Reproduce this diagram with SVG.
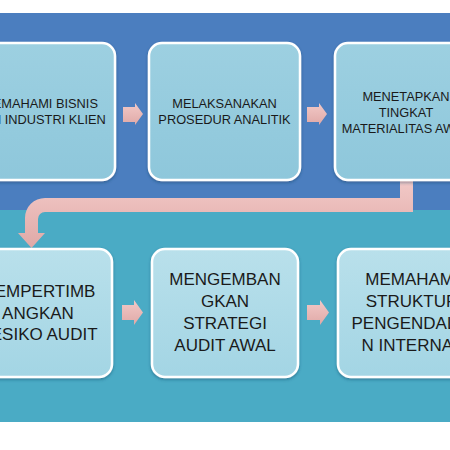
<svg xmlns="http://www.w3.org/2000/svg" width="450" height="450" viewBox="0 0 450 450">
<defs>
<linearGradient id="gTop" x1="0" y1="0" x2="0" y2="1">
<stop offset="0" stop-color="#9dd0e1"/>
<stop offset="1" stop-color="#8ec7db"/>
</linearGradient>
<linearGradient id="gBot" x1="0" y1="0" x2="0" y2="1">
<stop offset="0" stop-color="#b9e0eb"/>
<stop offset="1" stop-color="#a3d5e4"/>
</linearGradient>
<linearGradient id="gPink" x1="0" y1="0" x2="0" y2="1">
<stop offset="0" stop-color="#f2c9c7"/>
<stop offset="1" stop-color="#e0a9a7"/>
</linearGradient>
<filter id="sh" x="-20%" y="-20%" width="140%" height="140%">
<feDropShadow dx="0" dy="1.5" stdDeviation="1.5" flood-color="#1d3f60" flood-opacity="0.45"/>
</filter>
</defs>
<style>
.box{stroke:#ffffff;stroke-width:2.5;filter:url(#sh)}
.top{fill:url(#gTop)}
.bot{fill:url(#gBot)}
.t1{font-family:"Liberation Sans",Arial,sans-serif;font-size:12.8px;fill:#1a1a1a;text-anchor:middle}
.t2{font-family:"Liberation Sans",Arial,sans-serif;font-size:17px;fill:#1a1a1a;text-anchor:middle}
.arr{fill:url(#gPink)}
</style>
<rect x="0" y="0" width="450" height="450" fill="#ffffff"/>
<rect id="band-top" x="0" y="13" width="450" height="197" fill="#4b7ebf"/>
<rect id="band-bottom" x="0" y="210" width="450" height="212" fill="#4aabc5"/>

<g id="connectors">
<path class="arr" d="M400,180 L413,180 L413,212 L45,212 A7,7 0 0 0 38,219 L38,233 L45,233 L31.5,248 L18,233 L25,233 L25,218 A20,20 0 0 1 45,198 L400,198 Z"/>
<path class="arr" d="M123,107 L135,107 L135,103 L143,114 L135,125 L135,122 L123,122 Z"/>
<path class="arr" d="M307,107 L319,107 L319,103 L327,114 L319,125 L319,122 L307,122 Z"/>
<path class="arr" d="M122,305 L134,305 L134,300 L143,312.5 L134,325 L134,320 L122,320 Z"/>
<path class="arr" d="M307,305 L320,305 L320,300 L329,312.5 L320,325 L320,320 L307,320 Z"/>
</g>

<g id="node1">
<rect class="box top" x="-36" y="43" width="151" height="137" rx="13"/>
<text class="t1" x="40" y="108">MEMAHAMI BISNIS</text>
<text class="t1" x="40" y="124">DAN INDUSTRI KLIEN</text>
</g>
<g id="node2">
<rect class="box top" x="149" y="43" width="151" height="137" rx="13"/>
<text class="t1" x="224.5" y="108">MELAKSANAKAN</text>
<text class="t1" x="224.5" y="124">PROSEDUR ANALITIK</text>
</g>
<g id="node3">
<rect class="box top" x="335" y="43" width="151" height="137" rx="13"/>
<text class="t1" x="406" y="101">MENETAPKAN</text>
<text class="t1" x="406" y="117">TINGKAT</text>
<text class="t1" x="406" y="133">MATERIALITAS AWAL</text>
</g>
<g id="node4">
<rect class="box bot" x="-34" y="249" width="146" height="128" rx="13"/>
<text class="t2" x="38" y="297">MEMPERTIMB</text>
<text class="t2" x="38" y="318.5">ANGKAN</text>
<text class="t2" x="38" y="340">RESIKO AUDIT</text>
</g>
<g id="node5">
<rect class="box bot" x="152" y="249" width="146" height="128" rx="13"/>
<text class="t2" x="225" y="285">MENGEMBAN</text>
<text class="t2" x="225" y="307">GKAN</text>
<text class="t2" x="225" y="329">STRATEGI</text>
<text class="t2" x="225" y="351">AUDIT AWAL</text>
</g>
<g id="node6">
<rect class="box bot" x="338" y="249" width="146" height="128" rx="13"/>
<text class="t2" x="412" y="285">MEMAHAMI</text>
<text class="t2" x="412" y="307">STRUKTUR</text>
<text class="t2" x="412" y="329">PENGENDALIA</text>
<text class="t2" x="412" y="351">N INTERNAL</text>
</g>
</svg>
